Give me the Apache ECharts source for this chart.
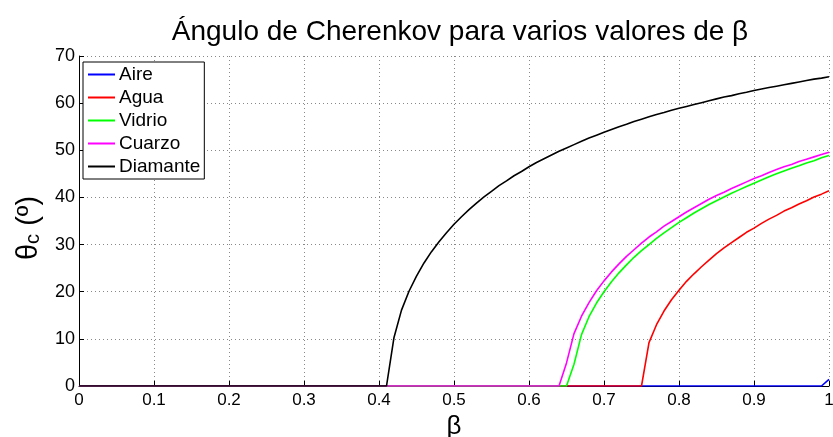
<!DOCTYPE html>
<html>
<head>
<meta charset="utf-8">
<script src="https://cdn.jsdelivr.net/npm/echarts@6/dist/echarts.min.js"></script>
<style>html,body{margin:0;padding:0;background:#fff}#c{width:833px;height:437px}</style>
</head>
<body>
<div id="c"></div>
<script>
const beta = [0,0.01,0.02,0.03,0.04,0.05,0.06,0.07,0.08,0.09,0.1,0.11,0.12,0.13,0.14,0.15,0.16,0.17,0.18,0.19,
0.2,0.21,0.22,0.23,0.24,0.25,0.26,0.27,0.28,0.29,0.3,0.31,0.32,0.33,0.34,0.35,0.36,0.37,0.38,0.39,
0.4,0.41,0.42,0.43,0.44,0.45,0.46,0.47,0.48,0.49,0.5,0.51,0.52,0.53,0.54,0.55,0.56,0.57,0.58,0.59,
0.6,0.61,0.62,0.63,0.64,0.65,0.66,0.67,0.68,0.69,0.7,0.71,0.72,0.73,0.74,0.75,0.76,0.77,0.78,0.79,
0.8,0.81,0.82,0.83,0.84,0.85,0.86,0.87,0.88,0.89,0.9,0.91,0.92,0.93,0.94,0.95,0.96,0.97,0.98,0.99,1];

const aire = [0,0,0,0,0,0,0,0,0,0,0,0,0,0,0,0,0,0,0,0,
0,0,0,0,0,0,0,0,0,0,0,0,0,0,0,0,0,0,0,0,
0,0,0,0,0,0,0,0,0,0,0,0,0,0,0,0,0,0,0,0,
0,0,0,0,0,0,0,0,0,0,0,0,0,0,0,0,0,0,0,0,
0,0,0,0,0,0,0,0,0,0,0,0,0,0,0,0,0,0,0,0,1.4];

const agua = [0,0,0,0,0,0,0,0,0,0,0,0,0,0,0,0,0,0,0,0,
0,0,0,0,0,0,0,0,0,0,0,0,0,0,0,0,0,0,0,0,
0,0,0,0,0,0,0,0,0,0,0,0,0,0,0,0,0,0,0,0,
0,0,0,0,0,0,0,0,0,0,0,0,0,0,0,0,
9.2,13.0,15.9,18.3,20.3,22.2,23.8,25.3,26.7,28.1,29.3,30.4,31.5,32.6,33.5,34.5,35.4,36.2,37.1,37.8,38.6,39.3,40.1,40.7,41.4];

const vidrio = [0,0,0,0,0,0,0,0,0,0,0,0,0,0,0,0,0,0,0,0,
0,0,0,0,0,0,0,0,0,0,0,0,0,0,0,0,0,0,0,0,
0,0,0,0,0,0,0,0,0,0,0,0,0,0,0,0,0,0,0,0,
0,0,0,0,0,0,
4.6,10.9,14.7,17.6,20.0,22.1,24.0,25.7,27.3,28.7,30.0,31.3,32.5,33.6,34.7,35.7,36.7,37.6,38.5,39.3,
40.1,40.9,41.6,42.3,43.0,43.7,44.4,45.0,45.6,46.2,46.7,47.3,47.8,48.4,48.9];

const cuarzo = [0,0,0,0,0,0,0,0,0,0,0,0,0,0,0,0,0,0,0,0,
0,0,0,0,0,0,0,0,0,0,0,0,0,0,0,0,0,0,0,0,
0,0,0,0,0,0,0,0,0,0,0,0,0,0,0,0,0,0,0,0,
0,0,0,0,0,
4.9,11.1,14.8,17.7,20.2,22.3,24.2,25.9,27.5,28.9,30.3,31.6,32.7,33.9,34.9,35.9,36.9,37.8,38.7,39.6,
40.4,41.1,41.9,42.6,43.3,44.0,44.6,45.3,45.9,46.5,47.0,47.6,48.1,48.6,49.1,49.6];

const diamante = [0,0,0,0,0,0,0,0,0,0,0,0,0,0,0,0,0,0,0,0,
0,0,0,0,0,0,0,0,0,0,0,0,0,0,0,0,0,0,0,0,
0,0,
10.3,16.1,20.1,23.3,26.1,28.5,30.6,32.5,34.3,35.9,37.4,38.8,40.1,41.3,42.5,43.5,44.6,45.5,46.5,47.4,
48.2,49.0,49.8,50.5,51.2,51.9,52.6,53.2,53.8,54.4,55.0,55.5,56.1,56.6,57.1,57.6,58.0,58.5,58.9,59.3,
59.7,60.1,60.5,60.9,61.3,61.6,62.0,62.3,62.7,63.0,63.3,63.6,63.9,64.2,64.5,64.8,65.1,65.3,65.6];

const names = ['Aire','Agua','Vidrio','Cuarzo','Diamante'];
const values = [aire, agua, vidrio, cuarzo, diamante];
const colors = ['#0000ff','#ff0000','#00ff00','#ff00ff','#000000'];

const FONT = 'Liberation Sans, Arial, sans-serif';
const chart = echarts.init(document.getElementById('c'));
chart.setOption({
  animation: false,
  backgroundColor: '#fff',
  title: {
    text: 'Ángulo de Cherenkov para varios valores de β',
    left: 455, top: 13, textAlign: 'center',
    textStyle: {fontFamily: FONT, fontSize: 28, fontWeight: 'normal', color: '#000'}
  },
  legend: {
    orient: 'vertical', left: 83, top: 62,
    icon: 'rect', itemWidth: 27, itemHeight: 2, itemGap: 4,
    padding: [3, 4, 3, 5],
    backgroundColor: '#fff', borderColor: '#000', borderWidth: 1,
    textStyle: {fontFamily: FONT, fontSize: 19, lineHeight: 19, color: '#000', padding: [0,0,0,-1]},
    data: names
  },
  grid: {left: 79, right: 4, top: 56, bottom: 51, containLabel: false, outerBoundsMode: 'none'},
  xAxis: {
    type: 'value', min: 0, max: 1, interval: 0.1,
    name: 'β', nameLocation: 'middle', nameGap: 28,
    nameTextStyle: {fontFamily: FONT, fontSize: 26, color: '#000'},
    axisLine: {show: true, onZero: false, lineStyle: {color: '#000', width: 1}},
    axisTick: {show: true, inside: true, length: 5, lineStyle: {color: '#000'}},
    axisLabel: {fontFamily: FONT, fontSize: 17, color: '#000', margin: 6,
      formatter: v => String(Math.round(v * 10) / 10)},
    splitLine: {show: true, lineStyle: {color: '#888', type: [1, 3], width: 1}}
  },
  yAxis: {
    type: 'value', min: 0, max: 70, interval: 10,
    name: '{t|θ}{s|c}{t| (º)}', nameLocation: 'middle', nameGap: 36, nameRotate: 90,
    nameTextStyle: {
      fontFamily: FONT, color: '#000', padding: [0, 14, 0, 0],
      rich: {
        t: {fontFamily: FONT, fontSize: 29, color: '#000', lineHeight: 29, verticalAlign: 'middle'},
        s: {fontFamily: FONT, fontSize: 20, color: '#000', lineHeight: 20, padding: [15, 0, 0, 0], verticalAlign: 'bottom'}
      }
    },
    axisLine: {show: true, lineStyle: {color: '#000', width: 1}},
    axisTick: {show: true, inside: true, length: 5, lineStyle: {color: '#000'}},
    axisLabel: {fontFamily: FONT, fontSize: 18, color: '#000', margin: 4},
    splitLine: {show: true, lineStyle: {color: '#888', type: [1, 3], width: 1}}
  },
  series: names.map((n, k) => ({
    name: n, type: 'line', showSymbol: false, symbol: 'none',
    color: colors[k],
    lineStyle: {width: 1.6, color: colors[k]},
    data: beta.map((b, i) => [b, values[k][i]])
  }))
});
</script>
</body>
</html>
